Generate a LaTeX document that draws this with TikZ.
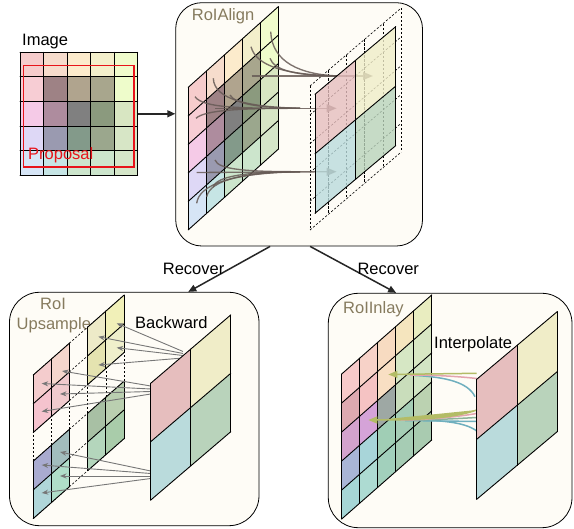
\documentclass[tikz,border=0pt]{standalone}
\usepackage{fontspec}
\setmainfont{Liberation Sans}
\usetikzlibrary{arrows.meta}

\definecolor{panelbg}{HTML}{FEFCF6}
\definecolor{titlecol}{HTML}{867B5E}
\definecolor{propred}{HTML}{E8141A}
\definecolor{flowcol}{HTML}{675B56}
\definecolor{backcol}{HTML}{777777}
\definecolor{ilyellow}{HTML}{B3BC66}
\definecolor{ilpink}{HTML}{E3A4AE}
\definecolor{ilteal}{HTML}{6FAFBE}
\definecolor{ilgreen}{HTML}{8DB39A}

\newcommand\fs{\fontsize{16.5}{19.8}\selectfont}

% fill cells: #1 cell width, #2 cell height, #3 list macro of col/row/hex
\newcommand\paintcells[3]{%
  \foreach \cc/\rr/\hx in #3{%
    \edef\setcellcolor{\noexpand\definecolor{cellc}{HTML}{\hx}}\setcellcolor
    \fill[cellc] ({\cc*#1},{\rr*#2}) rectangle ({(\cc+1)*#1},{(\rr+1)*#2});
  }}
% grid lines of a block: #1 w, #2 h, #3 first col, #4 first row, #5 cols, #6 rows, #7 style
\newcommand\blockgrid[7]{%
  \foreach \i in {0,...,#5} \draw[#7] ({(#3+\i)*#1},{#4*#2}) -- ({(#3+\i)*#1},{(#4+#6)*#2});
  \foreach \j in {0,...,#6} \draw[#7] ({#3*#1},{(#4+\j)*#2}) -- ({(#3+#5)*#1},{(#4+\j)*#2});
}

\def\imgcolors{0/0/F6CCCC,1/0/F6DCCC,2/0/FCEBCC,3/0/F3EFCB,4/0/F0FCCC,
0/1/F7CDD4,1/1/9E8285,2/1/B0A48E,3/1/A8A68D,4/1/EEFCCB,
0/2/F5CAE7,1/2/AE8C9E,2/2/808080,3/2/8B9A7E,4/2/D8E6C2,
0/3/DED8F6,1/3/9A9AB0,2/3/839A8A,3/3/9BA78D,4/3/D7E6C6,
0/4/D6E5F6,1/4/C6E5E5,2/4/CCE5CC,3/4/CCE5CC,4/4/D5E6C9}

\def\inlaycolors{0/0/F7CACA,0/1/DDA9B0,0/2/D3A2CD,0/3/A9B5D6,0/4/A6D6D6,
1/0/F7D2C8,1/1/F5C3C3,1/2/D5A3D8,1/3/A8D5D9,1/4/ADDBD2,
2/0/F7DBC1,2/1/F8DFC3,2/2/9EA8A4,2/3/A0CEB5,2/4/A2D0BC,
3/0/F5E5BE,3/1/D6E7C4,3/2/C9DDBB,3/3/A5CDB5,3/4/A6CCB4,
4/0/E9EDC0,4/1/D8E7C3,4/2/D2E5C4,4/3/BBD2B1,4/4/A9CBB0}

\def\upcolors{0/0/F4CCCD,1/0/F5D6CC,0/1/F5C3CE,1/1/F0CACD,
3/0/EDEAC8,4/0/F1F0B8,3/1/E5E3B0,4/1/EFEFCB,
0/3/A9ABD0,1/3/A2BDBD,0/4/B0D6D9,1/4/B0DEC9,
3/3/A8C0A4,4/3/BACFB0,3/4/B4D6BC,4/4/A9CCAA}

\def\quadcolors{0/0/E6BEBE,1/0/F0EDC8,0/1/BADBDC,1/1/B9D3BB}

\begin{document}
\begin{tikzpicture}[x=1pt,y=-1pt,
  panel/.style={draw=black, line width=0.8pt, fill=panelbg, inner sep=0pt},
  gl/.style={draw=black, line width=0.9pt, line cap=round},
  dl/.style={draw=black, line width=0.6pt, dash pattern=on 2.2pt off 1.8pt},
  lbl/.style={font=\fs, inner sep=0pt, anchor=base west},
  ttl/.style={lbl, text=titlecol},
  conn/.style={draw=black!85, line width=1.5pt, -{Triangle[length=8pt,width=7pt]}},
  flow/.style={draw=flowcol, line width=1.35pt, opacity=0.85},
  flowtip/.style={flow, -{Triangle[length=10pt,width=8pt]}},
  bk/.style={draw=backcol, line width=0.9pt, -{Stealth[length=6.5pt,width=5pt]}},
  il/.style={line width=1.5pt},
  iltip/.style={il, draw=ilyellow, -{Triangle[length=9pt,width=7pt]}, fill=ilyellow}]

\useasboundingbox (0,0) rectangle (574,529);
\fill[white] (0,0) rectangle (574,529);

% ---------- panels ----------
\node[panel, rounded corners=26pt, minimum width=246.8pt, minimum height=243.3pt] (align) at (299.1,124.35) {};
\node[panel, rounded corners=30pt, minimum width=249.5pt, minimum height=233.4pt] (ups) at (134.25,409) {};
\node[panel, rounded corners=30pt, minimum width=243.7pt, minimum height=234.4pt] (inlay) at (450.15,410.5) {};

% ---------- input image ----------
\begin{scope}[shift={(20,52.3)}]
  \paintcells{23.54}{24.6}{\imgcolors}
  \blockgrid{23.54}{24.6}{0}{0}{5}{5}{gl}
\end{scope}
\node[inner sep=0pt, minimum width=117.7pt, minimum height=123pt] (img) at (78.85,113.8) {};
\draw[propred, line width=1.4pt] (23.3,65.3) rectangle (134,167);
\node[lbl] (timage) at (22,46) {Image};
\node[lbl, text=propred] (tprop) at (28,160) {Proposal};

% ---------- RoIAlign ----------
\node[ttl] (talign) at (191.7,20.7) {RoIAlign};
\begin{scope}[shift={(188.3,87.3)}, yslant=0.896]
  \paintcells{18}{28.5}{\imgcolors}
  \blockgrid{18}{28.5}{0}{0}{5}{5}{gl}
\end{scope}
\begin{scope}[shift={(310,86)}, yslant=0.855]
  \blockgrid{18.2}{28.8}{0}{0}{5}{5}{dl}
\end{scope}

\coordinate (tipA) at (373,76);
\coordinate (tipB) at (336.7,108.3);
\coordinate (tipC) at (336.7,171.7);
\coordinate (mA) at (340,76);
\coordinate (mB) at (300,108.3);
\coordinate (mC) at (300,171.7);
% sampling flows, upper bin
\draw[flow] (270.7,31.7) .. controls (272,62) and (300,75) .. (mA);
\draw[flow] (270,58.3) .. controls (274,70) and (295,76) .. (mA);
\draw[flow] (251,46.7) .. controls (256,66) and (285,75) .. (mA);
\draw[flowtip] (251.7,76) -- (tipA);
% middle bin
\draw[flow] (195,96.7) .. controls (203,108) and (240,108.3) .. (mB);
\draw[flow] (213.3,78.3) .. controls (214,100) and (250,107) .. (mB);
\draw[flow] (196,118.3) .. controls (205,110) and (240,108.3) .. (mB);
\draw[flow] (230,95) .. controls (235,104) and (260,108) .. (mB);
\draw[flowtip] (215,108.3) -- (tipB);
% lower bin
\draw[flow] (215,160) .. controls (218,170) and (250,171.7) .. (mC);
\draw[flow] (196.7,203.3) .. controls (199,185) and (230,173) .. (mC);
\draw[flow] (206.7,196.7) .. controls (210,180) and (245,172) .. (mC);
\draw[flow] (213,186.7) .. controls (218,176) and (245,172) .. (mC);
\draw[flowtip] (196.7,172.5) -- (tipC);

\begin{scope}[shift={(315,94.3)}, yslant=0.838]
  \begin{scope}[opacity=0.8]
    \paintcells{40.35}{59.5}{\quadcolors}
  \end{scope}
  \blockgrid{40.35}{59.5}{0}{0}{2}{2}{gl}
\end{scope}

% ---------- RoI Upsample ----------
\node[ttl] (troi) at (40,310) {RoI};
\node[ttl] (tups) at (16.5,330) {Upsample};
\node[lbl] (tback) at (135,329) {Backward};
\begin{scope}[shift={(33.3,375)}, yslant=0.88]
  \blockgrid{18.15}{28.7}{0}{0}{5}{5}{dl}
  \paintcells{18.15}{28.7}{\upcolors}
  \blockgrid{18.15}{28.7}{0}{0}{2}{2}{gl}
  \blockgrid{18.15}{28.7}{3}{0}{2}{2}{gl}
  \blockgrid{18.15}{28.7}{0}{3}{2}{2}{gl}
  \blockgrid{18.15}{28.7}{3}{3}{2}{2}{gl}
\end{scope}
% gradients sent back to the sampled cells
\draw[bk] (183,351.5) -- (116.7,323.3);
\draw[bk] (183,353.5) -- (98.3,336.7);
\draw[bk] (183,355.5) -- (116.7,347.7);
\draw[bk] (183,358) -- (98.3,365);
\draw[bk] (150.7,386) -- (62,371);
\draw[bk] (150.7,389) -- (41.7,383.5);
\draw[bk] (150.7,391.5) -- (60,394);
\draw[bk] (150.7,394) -- (41.7,411.5);
\draw[bk] (150.7,471) -- (60,452);
\draw[bk] (150.7,473.5) -- (41.7,465);
\draw[bk] (150.7,476) -- (60,476);
\draw[bk] (150.7,478.5) -- (41.7,493);
\begin{scope}[shift={(150.7,383.3)}, yslant=0.854]
  \paintcells{40}{58.4}{\quadcolors}
  \blockgrid{40}{58.4}{0}{0}{2}{2}{gl}
\end{scope}

% ---------- RoIInlay ----------
\node[ttl] (tinlay) at (343,313.3) {RoIInlay};
\node[lbl] (tinterp) at (434,348.3) {Interpolate};
\begin{scope}[shift={(341.7,374)}, yslant=0.878]
  \paintcells{18}{29}{\inlaycolors}
  \blockgrid{18}{29}{0}{0}{5}{5}{gl}
\end{scope}
\coordinate (tipD) at (388.3,374.5);
\coordinate (tipE) at (368.3,420);
% interpolation flows
\draw[il, draw=ilteal] (475,396.7) .. controls (468,382) and (445,377) .. (415,375.5);
\draw[il, draw=ilpink] (476.7,378.5) .. controls (455,376) and (430,375) .. (410,375);
\draw[iltip] (476.7,373.3) -- (tipD);
\draw[il, draw=ilteal] (476.7,431) .. controls (465,422) and (440,420) .. (410,420);
\draw[il, draw=ilteal] (476.7,421.5) -- (405,420.5);
\draw[il, draw=ilgreen] (476.7,417.5) .. controls (450,419) and (430,420) .. (405,420);
\draw[il, draw=ilpink] (476.7,413.5) .. controls (450,418) and (420,420) .. (400,420);
\draw[iltip] (476.7,410) .. controls (455,418) and (420,420) .. (tipE);
\begin{scope}[shift={(476.7,379.3)}, yslant=0.84]
  \paintcells{40.3}{60}{\quadcolors}
  \blockgrid{40.3}{60}{0}{0}{2}{2}{gl}
\end{scope}

% ---------- connectors between panels ----------
\draw[conn] (img.east) -- (img.east -| align.west);
\draw[conn] ([xshift=-29pt]align.south) -- ([xshift=54pt]ups.north);
\draw[conn] ([xshift=11pt]align.south) -- ([xshift=-54pt]inlay.north);
\node[lbl] (trecl) at (162.7,274.3) {Recover};
\node[lbl] (trecr) at (357.3,274.3) {Recover};

\end{tikzpicture}
\end{document}
